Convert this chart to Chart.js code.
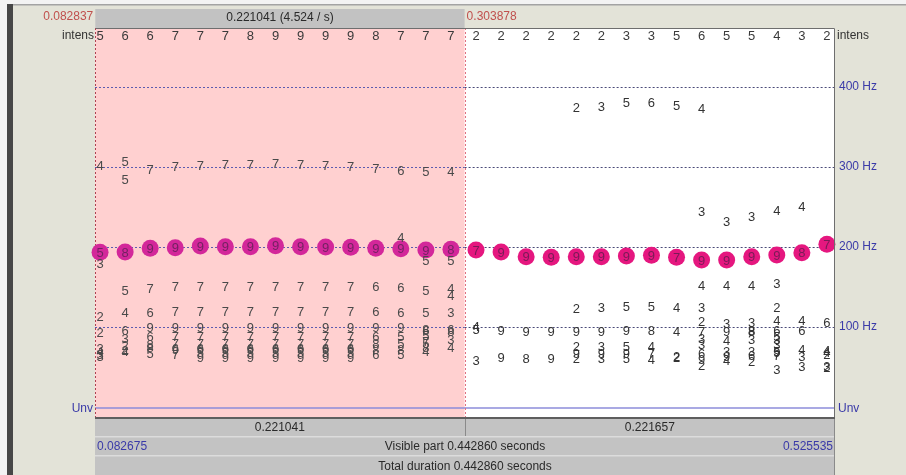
<!DOCTYPE html>
<html>
<head>
<meta charset="utf-8">
<script src="https://cdn.jsdelivr.net/npm/chart.js@4/dist/chart.umd.min.js"></script>
<style>
  html, body { margin: 0; padding: 0; background: #E3E3D8; overflow: hidden; }
  canvas { display: block; }
</style>
</head>
<body>
<canvas id="pitch" width="906" height="475"></canvas>
<script>
// Analysis frames (s) and the intensity digit shown above each frame
const frameTimes = [0.0857, 0.1007, 0.1157, 0.1307, 0.1457, 0.1607, 0.1757, 0.1907, 0.2057, 0.2207,
                    0.2357, 0.2507, 0.2657, 0.2807, 0.2957, 0.3107, 0.3257, 0.3407, 0.3557, 0.3707,
                    0.3857, 0.4007, 0.4157, 0.4307, 0.4457, 0.4607, 0.4757, 0.4907, 0.5057, 0.5207];
const intensity = [5, 6, 6, 7, 7, 7, 8, 9, 9, 9, 9, 8, 7, 7, 7, 2, 2, 2, 2, 2, 2, 3, 3, 5, 6, 5, 5, 4, 3, 2];

// Chosen pitch path (Hz) and its candidate strengths
const pathHz = [193.4, 193.8, 198.4, 199.1, 201.2, 200.4, 200.4, 201.6, 200.4, 200.0, 199.6, 198.4, 197.9, 196.2, 197.1,
                196.2, 193.8, 187.9, 187.1, 187.9, 187.9, 188.8, 189.6, 187.1, 183.8, 183.8, 187.9, 190.0, 192.9, 203.4];
const pathStrength = [5, 8, 9, 9, 9, 9, 9, 9, 9, 9, 9, 9, 9, 9, 8, 7, 9, 9, 9, 9, 9, 9, 9, 7, 9, 9, 9, 9, 8, 7];

// Remaining pitch candidates per frame: frequency (Hz) and strength digit
const candidateHz = [
  [301.6, 179.6, 113.8, 93.0, 73.0, 69.0, 66.0, 63.0],
  [306.6, 284.6, 146.2, 117.9, 96.2, 85.9, 77.5, 70.4, 69.0],
  [297.1, 148.3, 117.9, 99.6, 88.0, 78.5, 75.0, 67.0],
  [301.2, 150.4, 119.2, 99.6, 88.0, 79.0, 73.5, 72.0, 66.0],
  [302.5, 150.4, 119.2, 99.6, 88.0, 79.0, 73.5, 72.0, 68.0, 62.0],
  [303.8, 150.4, 119.2, 99.6, 88.0, 79.0, 73.5, 72.0, 68.0, 62.0],
  [303.8, 150.4, 119.2, 99.6, 88.0, 79.0, 73.5, 72.0, 68.0, 62.0],
  [304.6, 150.4, 119.2, 99.6, 88.0, 79.0, 73.5, 72.0, 68.0, 62.0],
  [303.8, 150.4, 119.2, 99.6, 88.0, 79.0, 73.5, 72.0, 68.0, 62.0],
  [302.5, 150.4, 119.2, 99.6, 88.0, 79.0, 73.5, 72.0, 68.0, 62.0],
  [301.2, 150.4, 119.2, 99.6, 88.0, 79.0, 73.5, 72.0, 68.0, 62.0],
  [298.3, 150.4, 119.2, 99.6, 88.0, 79.0, 72.0, 66.0],
  [296.2, 212.0, 149.6, 117.9, 99.6, 88.0, 80.0, 72.0, 66.0],
  [294.1, 183.8, 146.2, 117.9, 97.5, 96.0, 89.0, 82.0, 80.0, 75.0, 70.0],
  [294.1, 183.8, 148.3, 140.0, 117.9, 96.5, 95.0, 84.0, 74.6],
  [100.4, 97.0, 57.9],
  [95.4, 62.1],
  [94.2, 60.8],
  [94.2, 60.8],
  [374.0, 123.3, 94.2, 75.4, 67.1, 60.8],
  [376.2, 124.6, 94.2, 75.4, 67.1, 60.8],
  [380.4, 126.2, 95.4, 76.0, 67.1, 60.8],
  [380.4, 126.2, 95.4, 76.0, 67.1, 60.0],
  [377.5, 124.6, 94.2, 62.1, 62.6],
  [373.3, 244.2, 152.5, 124.6, 106.7, 94.2, 85.9, 78.8, 67.1, 59.6, 52.5],
  [231.6, 152.5, 105.0, 94.2, 83.8, 69.2, 63.8, 57.9],
  [238.8, 152.5, 106.0, 96.2, 94.0, 85.0, 69.2, 64.0, 57.0],
  [246.2, 154.6, 124.6, 108.0, 96.2, 88.0, 85.0, 78.5, 70.0, 68.0, 64.0, 47.1],
  [250.4, 108.8, 96.2, 72.1, 63.0, 50.4],
  [105.4, 71.2, 68.0, 66.0, 51.0, 50.0]
];
const candidateStrength = [
  [4, 3, 2, 2, 3, 4, 3, 3],
  [5, 5, 5, 4, 6, 3, 2, 2, 4],
  [7, 7, 6, 9, 6, 8, 8, 5],
  [7, 7, 7, 9, 7, 7, 6, 9, 7],
  [7, 7, 7, 9, 7, 7, 6, 9, 5, 9],
  [7, 7, 7, 9, 7, 7, 6, 9, 5, 9],
  [7, 7, 7, 9, 7, 7, 6, 9, 5, 9],
  [7, 7, 7, 9, 7, 7, 6, 9, 5, 9],
  [7, 7, 7, 9, 7, 7, 6, 9, 5, 9],
  [7, 7, 7, 9, 7, 7, 6, 9, 5, 9],
  [7, 7, 7, 9, 7, 7, 6, 9, 5, 9],
  [7, 6, 6, 9, 6, 8, 8, 6],
  [6, 4, 6, 6, 9, 5, 5, 8, 5],
  [5, 5, 5, 5, 8, 6, 5, 7, 5, 8, 4],
  [4, 5, 4, 4, 3, 6, 8, 3, 4],
  [4, 5, 3],
  [9, 9],
  [9, 8],
  [9, 9],
  [2, 2, 9, 2, 9, 2],
  [3, 3, 9, 3, 9, 3],
  [5, 5, 9, 5, 9, 5],
  [6, 5, 8, 4, 7, 4],
  [5, 4, 4, 2, 2],
  [4, 3, 4, 3, 2, 7, 3, 3, 6, 9, 2],
  [3, 4, 3, 9, 4, 3, 9, 4],
  [3, 4, 3, 8, 8, 3, 3, 6, 2],
  [4, 3, 2, 4, 6, 5, 3, 3, 5, 9, 7, 3],
  [4, 4, 6, 4, 3, 3],
  [6, 4, 4, 2, 3, 2]
];

// Frequency reference lines and window / selection times (s)
const gridHz = [100, 200, 300, 400];
const unvoicedHz = -1.2;
const viewStart = 0.082675, viewEnd = 0.525535;
const selStart = 0.082837, selEnd = 0.303878;

const FONT = '"Liberation Sans", Arial, sans-serif';

const pathPoints = frameTimes.map((t, i) => ({ x: t, y: pathHz[i], s: pathStrength[i] }));
const candPoints = [];
candidateHz.forEach((list, i) => list.forEach((hz, k) => {
  candPoints.push({ x: frameTimes[i], y: hz, s: candidateStrength[i][k] });
}));

function inSelection(t) { return t >= selStart && t <= selEnd; }

const editorPlugin = {
  id: 'pitchEditor',
  beforeDraw(chart) {
    const { ctx, chartArea: a, scales: { x, y } } = chart;
    const W = chart.width, H = chart.height;
    ctx.save();
    ctx.fillStyle = '#E3E3D8';
    ctx.fillRect(0, 0, W, H);
    ctx.fillStyle = '#F3F3F3';
    ctx.fillRect(0, 0, W, 4);
    ctx.fillRect(0, 0, 7, H);
    ctx.fillStyle = '#A3A3A3';
    ctx.fillRect(7, 4, W - 7, 1.5);
    ctx.fillStyle = '#474747';
    ctx.fillRect(7, 4, 6, H - 4);

    const xs = x.getPixelForValue(selStart), xe = x.getPixelForValue(selEnd);

    // top selection bar
    ctx.fillStyle = '#C2C2C2';
    ctx.fillRect(xs, 9, xe - xs, a.top - 9);
    ctx.font = '12px ' + FONT;
    ctx.fillStyle = '#2a2a2a';
    ctx.textAlign = 'center'; ctx.textBaseline = 'middle';
    ctx.fillText((selEnd - selStart).toFixed(6) + ' (' + (1 / (selEnd - selStart)).toFixed(3) + ' / s)', (xs + xe) / 2, 18);
    ctx.fillStyle = '#C0504D';
    ctx.textAlign = 'right';
    ctx.fillText(selStart.toFixed(6), xs - 2, 17);
    ctx.textAlign = 'left';
    ctx.fillText(selEnd.toFixed(6), xe + 2, 17);

    // plot field
    ctx.fillStyle = '#FFFFFF';
    ctx.fillRect(a.left, a.top, a.width, a.height);
    ctx.fillStyle = '#FFD0D0';
    ctx.fillRect(xs, a.top, xe - xs, a.height);

    // frequency reference lines
    ctx.lineWidth = 1;
    ctx.setLineDash([2, 2]);
    gridHz.forEach(hz => {
      const py = Math.round(y.getPixelForValue(hz)) + 0.5;
      ctx.strokeStyle = '#5C5CB0';
      ctx.beginPath(); ctx.moveTo(a.left, py); ctx.lineTo(xe, py); ctx.stroke();
      ctx.strokeStyle = '#4A4A78';
      ctx.beginPath(); ctx.moveTo(xe, py); ctx.lineTo(a.right, py); ctx.stroke();
    });
    ctx.setLineDash([]);

    // unvoiced line
    const uy = y.getPixelForValue(unvoicedHz);
    ctx.strokeStyle = '#8C8CDA';
    ctx.lineWidth = 1.5;
    ctx.beginPath(); ctx.moveTo(a.left, uy); ctx.lineTo(a.right, uy); ctx.stroke();

    // selection boundaries
    ctx.setLineDash([2, 2]);
    ctx.lineWidth = 1;
    ctx.strokeStyle = '#B04050';
    ctx.beginPath(); ctx.moveTo(Math.round(xs) + 0.5, a.top); ctx.lineTo(Math.round(xs) + 0.5, a.bottom); ctx.stroke();
    ctx.strokeStyle = '#E07080';
    ctx.beginPath(); ctx.moveTo(Math.round(xe) + 0.5, a.top); ctx.lineTo(Math.round(xe) + 0.5, a.bottom); ctx.stroke();
    ctx.setLineDash([]);
    ctx.restore();
  },
  afterDatasetsDraw(chart) {
    const { ctx, chartArea: a, scales: { x, y } } = chart;
    ctx.save();
    ctx.font = '13px ' + FONT;
    ctx.textAlign = 'center';
    ctx.textBaseline = 'middle';

    // candidate strength digits
    const cMeta = chart.getDatasetMeta(1);
    cMeta.data.forEach((el, j) => {
      const p = candPoints[j];
      ctx.fillStyle = inSelection(p.x) ? '#4A4A4A' : '#333333';
      ctx.fillText(String(p.s), el.x, el.y + 1);
    });

    // strengths on the chosen path
    const pMeta = chart.getDatasetMeta(0);
    pMeta.data.forEach((el, j) => {
      ctx.fillStyle = 'rgba(50,30,60,0.6)';
      ctx.fillText(String(pathPoints[j].s), el.x, el.y + 1);
    });

    // intensity row
    ctx.fillStyle = '#3A3A3A';
    frameTimes.forEach((t, i) => {
      ctx.fillText(String(intensity[i]), x.getPixelForValue(t), a.top + 8);
    });
    ctx.restore();
  },
  afterDraw(chart) {
    const { ctx, chartArea: a, scales: { x, y } } = chart;
    const H = chart.height;
    ctx.save();
    const xs = x.getPixelForValue(selStart), xe = x.getPixelForValue(selEnd);

    // plot border
    ctx.strokeStyle = '#6E6E6E';
    ctx.lineWidth = 1;
    ctx.beginPath();
    ctx.moveTo(a.left + 0.5, a.top + 0.5); ctx.lineTo(a.right - 0.5, a.top + 0.5);
    ctx.lineTo(a.right - 0.5, a.bottom);
    ctx.stroke();
    ctx.fillStyle = '#5E5E5E';
    ctx.fillRect(a.left, a.bottom - 1, a.width, 2);

    // axis labels
    ctx.font = '12px ' + FONT;
    ctx.textBaseline = 'middle';
    ctx.fillStyle = '#3A3AA8';
    ctx.textAlign = 'left';
    gridHz.forEach(hz => ctx.fillText(hz + ' Hz', a.right + 4, y.getPixelForValue(hz)));
    const uy = y.getPixelForValue(unvoicedHz);
    ctx.fillText('Unv', a.right + 3, uy + 1);
    ctx.textAlign = 'right';
    ctx.fillText('Unv', a.left - 2, uy + 1);
    ctx.fillStyle = '#333333';
    ctx.fillText('intens', a.left - 1, a.top + 8);
    ctx.textAlign = 'left';
    ctx.fillText('intens', a.right + 2, a.top + 8);

    // bottom time bars
    const b1 = a.bottom + 1, b2 = 437, b3 = 456;
    ctx.fillStyle = '#C3C3C3';
    ctx.fillRect(a.left, b1, a.width, H - b1);
    ctx.fillStyle = '#DCDCDC';
    ctx.fillRect(a.left, b2 - 1, a.width, 1.5);
    ctx.fillRect(a.left, b3 - 1, a.width, 1.5);
    ctx.fillStyle = '#8A8A8A';
    ctx.fillRect(Math.round(xe), b1, 1, b2 - b1 - 1);
    ctx.fillRect(a.right - 1, b1, 1, H - b1);

    ctx.fillStyle = '#2a2a2a';
    ctx.textAlign = 'center';
    ctx.fillText((selEnd - selStart).toFixed(6), (a.left + xe) / 2, (b1 + b2) / 2);
    ctx.fillText((viewEnd - selEnd).toFixed(6), (xe + a.right) / 2, (b1 + b2) / 2);
    const vis = (viewEnd - viewStart).toFixed(6);
    ctx.fillText('Visible part ' + vis + ' seconds', (a.left + a.right) / 2, (b2 + b3) / 2);
    ctx.fillText('Total duration ' + vis + ' seconds', (a.left + a.right) / 2, (b3 + H) / 2 + 1);
    ctx.fillStyle = '#3A3AA8';
    ctx.textAlign = 'left';
    ctx.fillText(viewStart.toFixed(6), a.left + 2, (b2 + b3) / 2);
    ctx.textAlign = 'right';
    ctx.fillText(viewEnd.toFixed(6), a.right - 2, (b2 + b3) / 2);
    ctx.restore();
  }
};

new Chart(document.getElementById('pitch'), {
  type: 'scatter',
  data: {
    datasets: [
      {
        label: 'path',
        data: pathPoints,
        pointRadius: 8.5,
        pointHoverRadius: 8.5,
        borderWidth: 0,
        clip: false,
        pointBackgroundColor: ctx => inSelection(ctx.raw.x) ? '#D3279A' : '#E5177F',
        pointBorderColor: 'rgba(0,0,0,0)',
        showLine: false
      },
      {
        label: 'candidates',
        data: candPoints,
        pointRadius: 0,
        pointHoverRadius: 0,
        showLine: false
      }
    ]
  },
  options: {
    responsive: false,
    animation: false,
    events: [],
    layout: { padding: { left: 95, right: 71, top: 28, bottom: 57 } },
    plugins: { legend: { display: false }, tooltip: { enabled: false } },
    scales: {
      x: { type: 'linear', min: viewStart, max: viewEnd, display: false },
      y: { type: 'linear', min: -13.75, max: 473.75, display: false }
    }
  },
  plugins: [editorPlugin]
});
</script>
</body>
</html>
